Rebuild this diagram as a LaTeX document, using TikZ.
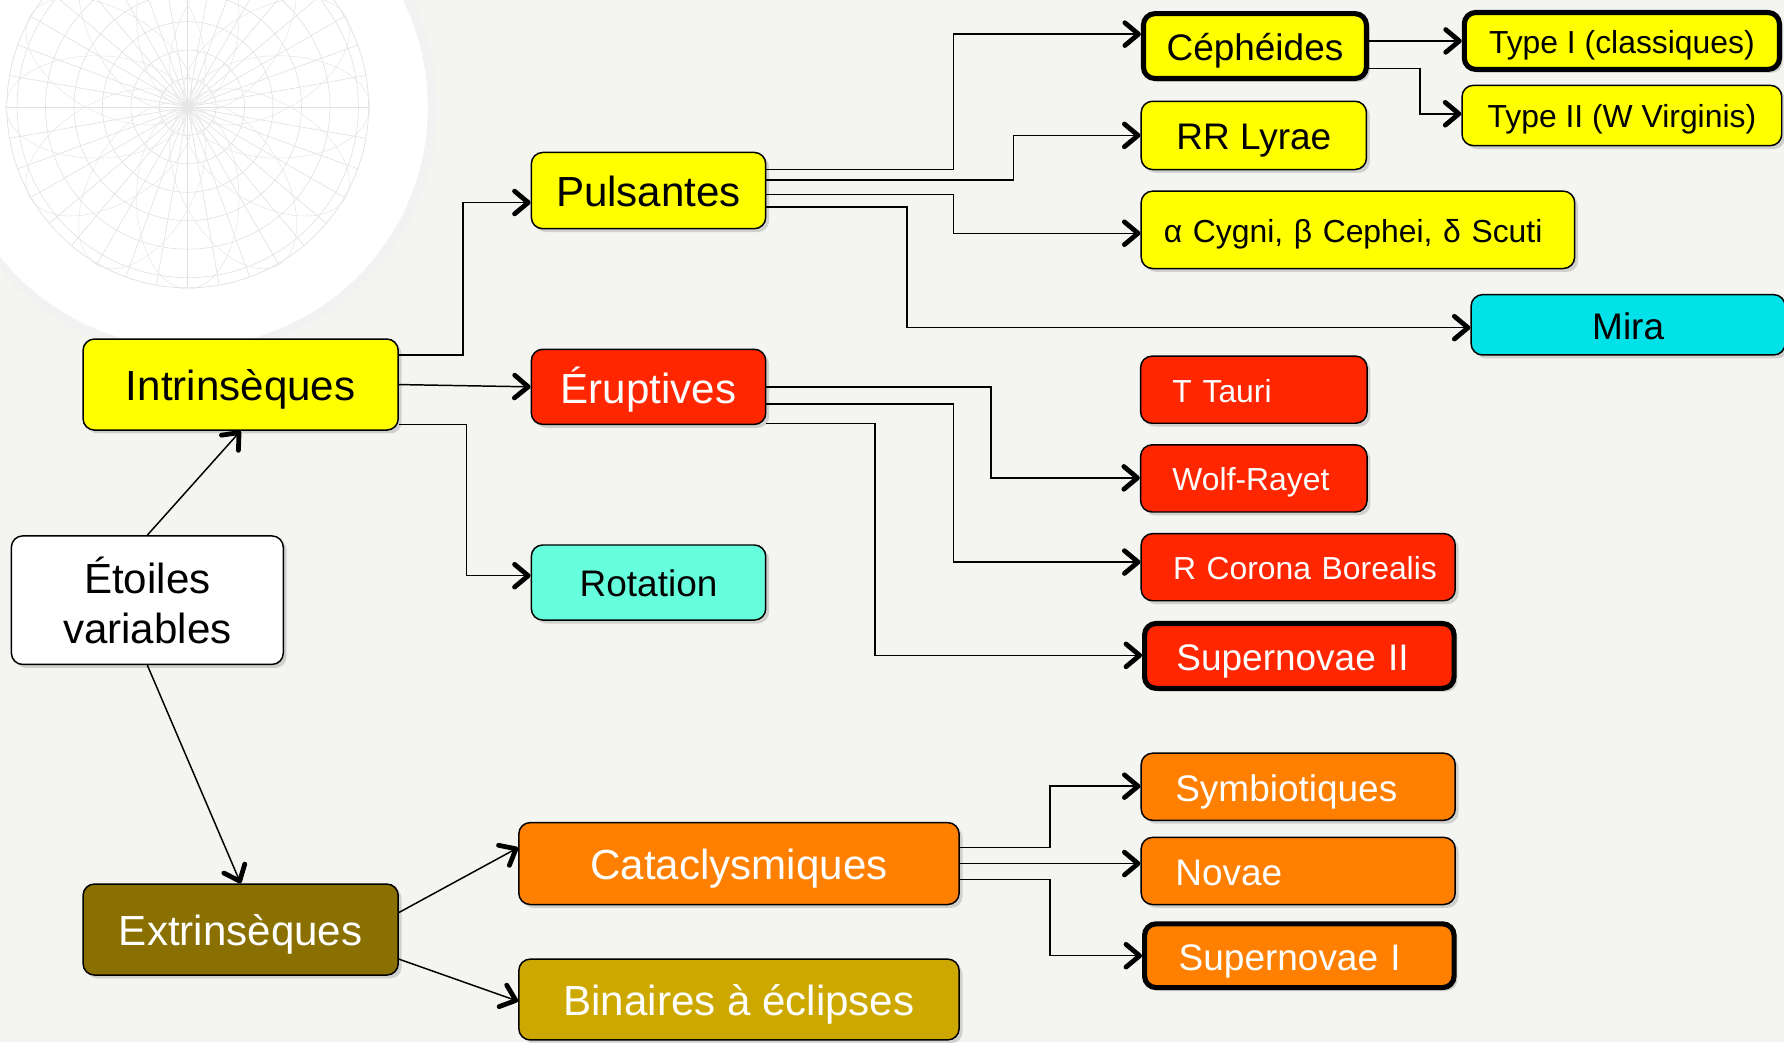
\documentclass[tikz,border=0pt]{standalone}
\usepackage{fontspec}
\setmainfont{Liberation Sans}
\usetikzlibrary{arrows.meta,shadows}

\definecolor{fond}{HTML}{F4F4F1}
\definecolor{jaune}{HTML}{FFFF00}
\definecolor{rouge}{HTML}{FF2600}
\definecolor{orangec}{HTML}{FF7F00}
\definecolor{kaki}{HTML}{8A7000}
\definecolor{doree}{HTML}{CCA800}
\definecolor{cyanc}{HTML}{00E1E8}
\definecolor{turq}{HTML}{66FFDD}

\newcommand{\txtL}{\fontsize{37}{44}\selectfont}
\newcommand{\txtM}{\fontsize{32.5}{38}\selectfont}
\newcommand{\txtS}{\fontsize{28}{33}\selectfont}

\tikzset{
  boite/.style={draw=black, line width=1.3pt, rounded corners=10pt, inner sep=0pt,
    align=center, drop shadow={shadow xshift=3pt, shadow yshift=-3pt, opacity=0.3}},
  epais/.style={line width=4.5pt},
  fL/.style={font=\txtL, text height=35pt, text depth=6.2pt},
  fM/.style={font=\txtM, text height=31pt, text depth=5.6pt},
  fS/.style={font=\txtS, text height=27pt, text depth=5.2pt},
  gauche/.style={text width=#1, align=left, inner xsep=28pt},
  conn/.style={line width=1.3pt, -{Straight Barb[length=12pt,width=20pt,line width=4.2pt 0,round]}}
}

\begin{document}
\begin{tikzpicture}[x=1pt,y=-1pt]
    \useasboundingbox (0,0) rectangle (1568,916);
    \begin{scope}
        \clip (0,0) rectangle (1568,916);
        \fill[fond] (0,0) rectangle (1568,916);
        \draw[black!5, line width=8pt] (165,94) circle[radius=215pt];
        \fill[white] (165,94) circle[radius=211pt];
        \foreach \r in {25,50,...,150}
            \draw[black!12, line width=0.5pt] (165,94) circle[radius=\r pt];
        \draw[black!12, line width=0.6pt] (165,94) circle[radius=159pt];
        \foreach \a in {0,10,...,350}
            \draw[black!12, line width=0.5pt] (165,94) -- ++(\a:159pt);
        \foreach \a in {0,30,...,330}
            \draw[black!9, line width=0.5pt, rotate around={\a:(165,94)}] (165,94) ++(80pt,0) circle[x radius=80pt, y radius=45pt];
    \end{scope}

    % premier niveau
    \node[boite, fill=white, minimum width=239pt, minimum height=113pt, font=\txtL] (etoiles) at (129.5,527.5) {Étoiles\\variables};
    \node[boite, fill=jaune, minimum width=277pt, minimum height=80pt, fL] (intr) at (211.5,338) {Intrinsèques};
    \node[boite, fill=kaki, text=white, minimum width=277pt, minimum height=80pt, fL] (extr) at (211.5,817) {Extrinsèques};

    % deuxieme niveau
    \node[boite, fill=jaune, minimum width=206pt, minimum height=67pt, fL] (pul) at (570,167.5) {Pulsantes};
    \node[boite, fill=rouge, text=white, minimum width=206pt, minimum height=66pt, fL] (erup) at (570,340) {Éruptives};
    \node[boite, fill=turq, minimum width=206pt, minimum height=66pt, fM] (rot) at (570,512) {Rotation};
    \node[boite, fill=orangec, text=white, minimum width=387pt, minimum height=72pt, fL] (cata) at (649.5,759) {Cataclysmiques};
    \node[boite, fill=doree, text=white, minimum width=387pt, minimum height=71pt, fL] (bin) at (649.5,878.5) {Binaires à éclipses};

    % troisieme niveau
    \node[boite, epais, fill=jaune, minimum width=196pt, minimum height=57pt, fM] (ceph) at (1103,40.5) {Céphéides};
    \node[boite, fill=jaune, minimum width=198pt, minimum height=60pt, fM] (rr) at (1102,119) {RR Lyrae};
    \node[boite, fill=jaune, gauche=341pt, inner xsep=20pt, minimum height=68pt, fS] (acyg) at (1193.5,202) {α Cygni, β Cephei, δ Scuti};
    \node[boite, fill=cyanc, minimum width=276pt, minimum height=53pt, fM] (mira) at (1431,285.5) {Mira};
    \node[boite, epais, fill=jaune, minimum width=277pt, minimum height=50pt, fS] (type1) at (1425.5,36) {Type I (classiques)};
    \node[boite, fill=jaune, minimum width=281pt, minimum height=53pt, fS] (type2) at (1425.5,101.5) {Type II (W Virginis)};
    \node[boite, fill=rouge, text=white, gauche=143pt, minimum height=59pt, fS] (ttau) at (1102,342.5) {T Tauri};
    \node[boite, fill=rouge, text=white, gauche=143pt, minimum height=59pt, fS] (wolf) at (1102,420.5) {Wolf-Rayet};
    \node[boite, fill=rouge, text=white, gauche=220pt, minimum height=59pt, fS] (rcb) at (1141,498.5) {\mbox{R Corona Borealis}};
    \node[boite, epais, fill=rouge, text=white, gauche=216pt, minimum height=57pt, fM] (sn2) at (1142,576.5) {Supernovae II};
    \node[boite, fill=orangec, text=white, gauche=216pt, inner xsep=30pt, minimum height=59pt, fM] (symb) at (1141,691.5) {Symbiotiques};
    \node[boite, fill=orangec, text=white, gauche=216pt, inner xsep=30pt, minimum height=59pt, fM] (nov) at (1141,765.5) {Novae};
    \node[boite, epais, fill=orangec, text=white, gauche=212pt, inner xsep=30pt, minimum height=56pt, fM] (sn1) at (1142,840) {Supernovae I};

    % liaisons
    \draw[conn] (etoiles.north) -- (intr.south);
    \draw[conn] (etoiles.south) -- (extr.north);
    \draw[conn] (intr.east |- 0,312) -| (407,178) -- (pul.west |- 0,178);
    \draw[conn] (intr.east) -- (erup.west);
    \draw[conn] (intr.east |- 0,373) -| (410,506) -- (rot.west |- 0,506);
    \draw[conn] (extr.east |- 0,802) -- (cata.west |- 0,745);
    \draw[conn] (extr.east |- 0,843) -- (bin.west |- 0,880);

    \draw[conn] (pul.east |- 0,149) -| (838,30) -- (ceph.west |- 0,30);
    \draw[conn] (pul.east |- 0,158) -| (891,119) -- (rr.west |- 0,119);
    \draw[conn] (pul.east |- 0,171) -| (838,205) -- (acyg.west |- 0,205);
    \draw[conn] (pul.east |- 0,182) -| (797,288) -- (mira.west |- 0,288);
    \draw[conn] (ceph.east |- 0,36) -- (type1.west |- 0,36);
    \draw[conn] (ceph.east |- 0,60) -| (1248,100) -- (type2.west |- 0,100);

    \draw[conn] (erup.east |- 0,340) -| (871,420) -- (wolf.west |- 0,420);
    \draw[conn] (erup.east |- 0,355) -| (838,494) -- (rcb.west |- 0,494);
    \draw[conn] (erup.east |- 0,372) -| (769,576) -- (sn2.west |- 0,576);

    \draw[conn] (cata.east |- 0,745) -| (923,691) -- (symb.west |- 0,691);
    \draw[conn] (cata.east |- 0,759) -- (nov.west |- 0,759);
    \draw[conn] (cata.east |- 0,773) -| (923,840) -- (sn1.west |- 0,840);
\end{tikzpicture}
\end{document}
